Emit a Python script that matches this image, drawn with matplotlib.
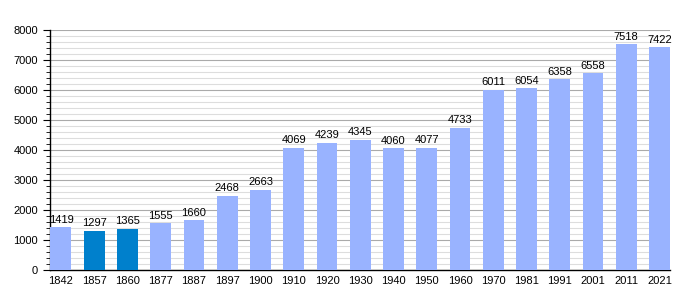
import matplotlib.pyplot as plt
from matplotlib.ticker import MultipleLocator

years = ["1842", "1857", "1860", "1877", "1887", "1897", "1900", "1910", "1920", "1930",
         "1940", "1950", "1960", "1970", "1981", "1991", "2001", "2011", "2021"]
population = [1419, 1297, 1365, 1555, 1660, 2468, 2663, 4069, 4239, 4345,
              4060, 4077, 4733, 6011, 6054, 6358, 6558, 7518, 7422]
highlight = ["1857", "1860"]

plt.rcParams['font.family'] = ['Liberation Sans', 'DejaVu Sans']

fig = plt.figure(figsize=(7, 3), dpi=100)
ax = fig.add_axes([50 / 700, 0.1, 620 / 700, 0.8])

colors = ['#0080cc' if y in highlight else '#99b3ff' for y in years]
x = range(len(years))
ax.bar(x, population, width=0.63, color=colors, zorder=3)

for i, v in enumerate(population):
    ax.text(i, v + 90, str(v), ha='center', va='bottom', fontsize=8, zorder=4)

ax.set_xlim(-0.33, len(years) - 1 + 0.315)
ax.set_ylim(0, 8000)
ax.set_xticks(list(x))
ax.set_xticklabels(years)
ax.yaxis.set_major_locator(MultipleLocator(1000))
ax.yaxis.set_minor_locator(MultipleLocator(200))
ax.grid(axis='y', which='major', color='#aaaaaa', linewidth=0.8, zorder=0)
ax.grid(axis='y', which='minor', color='#dddddd', linewidth=0.8, zorder=0)

ax.tick_params(axis='x', length=0, labelsize=8, pad=4)
ax.tick_params(axis='y', which='major', length=5, labelsize=8, direction='out')
ax.tick_params(axis='y', which='minor', length=3)

for s in ['top', 'right']:
    ax.spines[s].set_visible(False)
ax.spines['left'].set_linewidth(1)
ax.spines['bottom'].set_linewidth(1)

fig.savefig("out.png", dpi=100)
